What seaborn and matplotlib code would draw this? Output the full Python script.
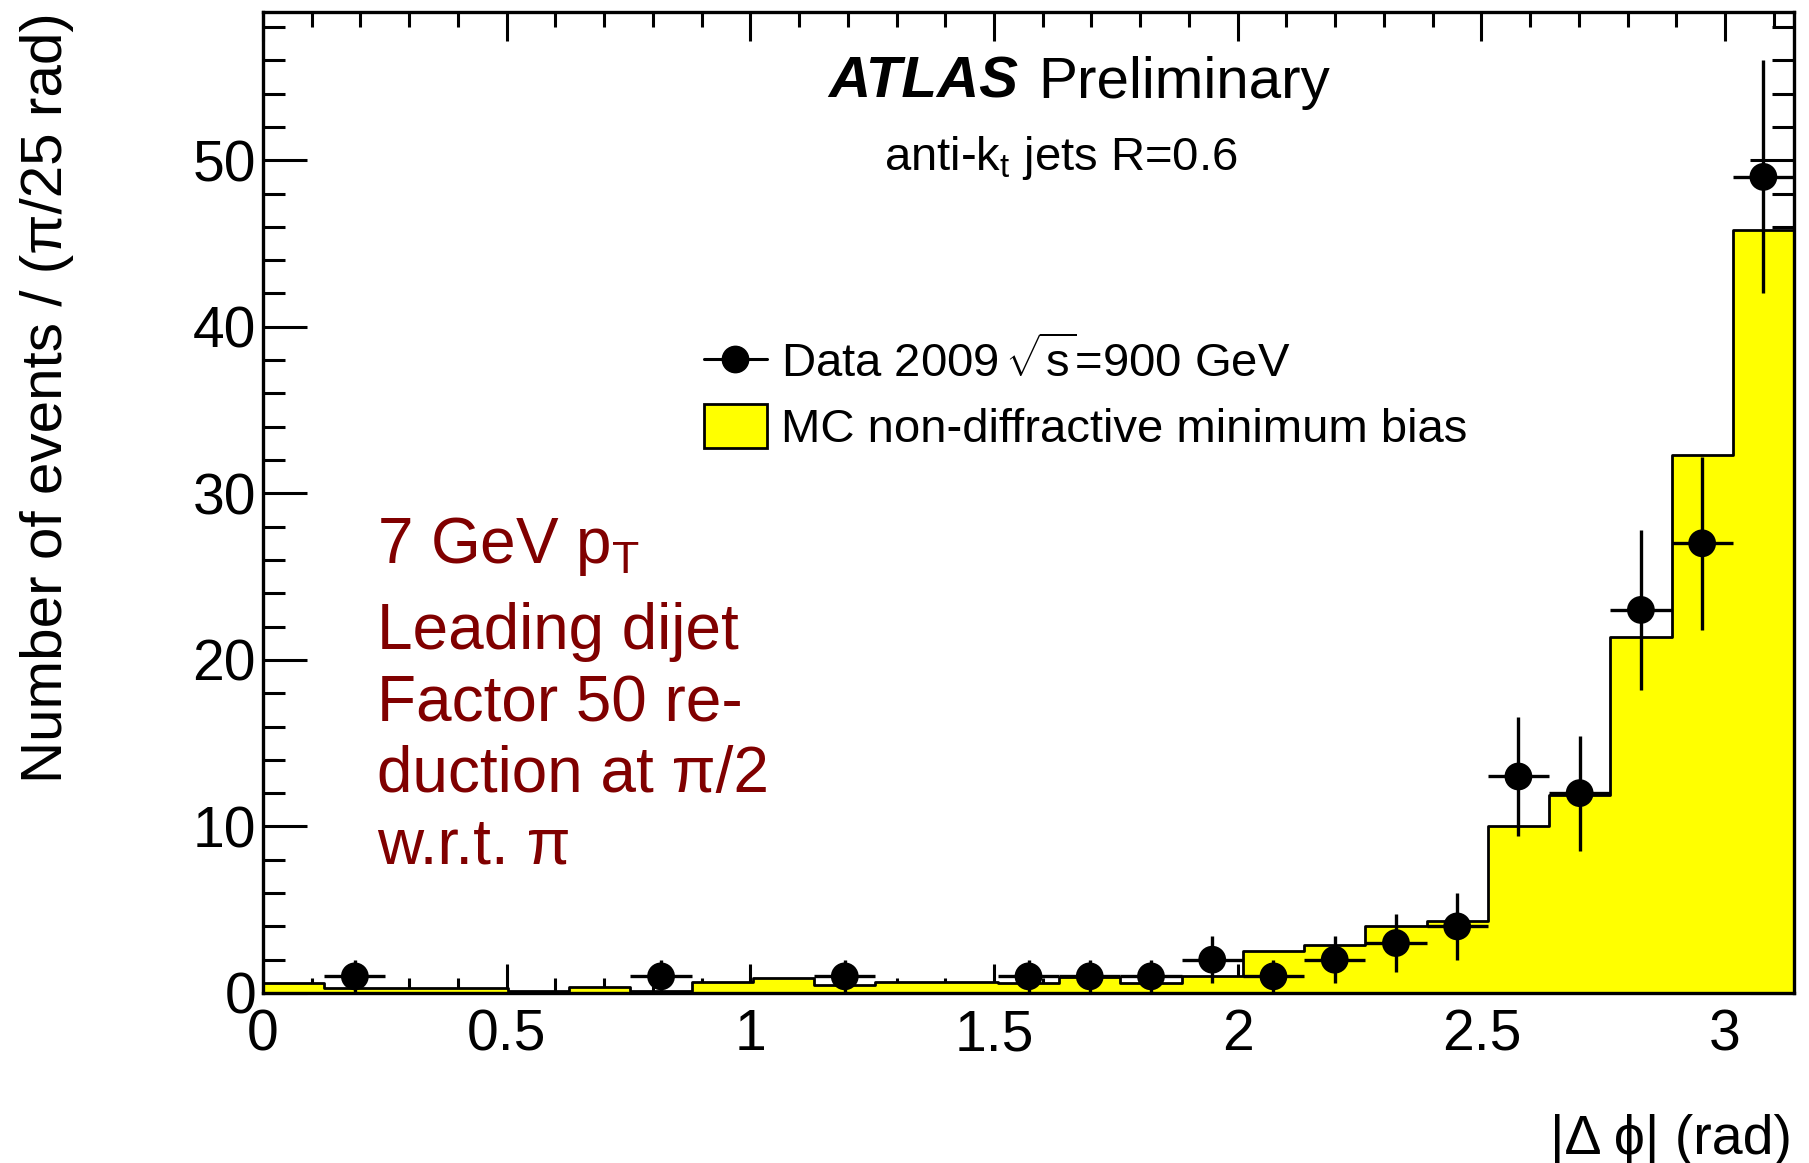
import numpy as np
import pandas as pd
import matplotlib
matplotlib.use("Agg")
import matplotlib.pyplot as plt
from matplotlib.lines import Line2D
from matplotlib.patches import Patch
from matplotlib.ticker import MultipleLocator
import seaborn as sns

# ---------------- data ----------------
n_bins = 25
x_min, x_max = 0.0, np.pi
# MC non-diffractive minimum bias (per bin of pi/25)
mc_values = [0.6, 0.3, 0.3, 0.3, 0.15, 0.35, 0.15, 0.65, 0.9, 0.5, 0.65, 0.65,
             0.6, 0.95, 0.6, 1.0, 2.5, 2.9, 4.0, 4.35, 10.0, 11.9, 21.4, 32.3, 45.8]
# Data 2009 counts (bins with zero entries are not drawn)
data_counts = [0, 1, 0, 0, 0, 0, 1, 0, 0, 1, 0, 0,
               1, 1, 1, 2, 1, 2, 3, 4, 13, 12, 23, 27, 49]
data_errors = [0, 1, 0, 0, 0, 0, 1, 0, 0, 1, 0, 0,
               1, 1, 1, 1.41, 1, 1.41, 1.73, 2, 3.6, 3.46, 4.8, 5.2, 7.0]

legend_labels = ["Data 2009$\\,\\sqrt{\\mathregular{s}}$=900 GeV",
                 "MC non-diffractive minimum bias"]
note_lines = ["7 GeV p$_{\\mathregular{T}}$", "Leading dijet", "Factor 50 re-",
              "duction at \u03c0/2", "w.r.t. \u03c0"]

edges = np.linspace(x_min, x_max, n_bins + 1)
centers = 0.5 * (edges[:-1] + edges[1:])
width = edges[1] - edges[0]
df_mc = pd.DataFrame({"x": centers, "w": mc_values})
df_data = pd.DataFrame({"x": centers, "n": data_counts, "e": data_errors})
df_data = df_data[df_data["n"] > 0]

# ---------------- style ----------------
sns.set_theme(style="white")
plt.rcParams["font.family"] = ["Liberation Sans", "DejaVu Sans"]
plt.rcParams["mathtext.fontset"] = "custom"
plt.rcParams["mathtext.rm"] = "Liberation Sans"
plt.rcParams["mathtext.it"] = "Liberation Sans:italic"
plt.rcParams["mathtext.bf"] = "Liberation Sans:bold"
plt.rcParams["text.color"] = "black"
plt.rcParams["axes.labelcolor"] = "black"
plt.rcParams["legend.labelcolor"] = "black"

W, H = 1809, 1163
fig = plt.figure(figsize=(W / 100, H / 100), dpi=100)
ax = fig.add_axes([263 / W, 1 - 993 / H, (1794 - 263) / W, (993 - 12) / H])

def fx(px):
    return px / W

def fy(py):
    return 1 - py / H

# MC histogram (yellow filled step)
sns.histplot(data=df_mc, x="x", weights="w", bins=n_bins, binrange=(x_min, x_max),
             element="step", fill=True, color="#ffff00", edgecolor="black",
             linewidth=2.0, alpha=1.0, ax=ax)

# Data points with error bars
ax.errorbar(df_data["x"], df_data["n"], xerr=width / 2, yerr=df_data["e"], fmt="none",
            ecolor="black", elinewidth=2.4, capsize=0, zorder=3)
sns.scatterplot(data=df_data, x="x", y="n", color="black", s=20 ** 2, marker="o",
                edgecolor="none", linewidth=0, zorder=4, ax=ax)

ax.set_xlim(x_min, x_max)
ax.set_ylim(0, 58.9)
ax.set_xlabel("")
ax.set_ylabel("")

ax.xaxis.set_major_locator(MultipleLocator(0.5))
ax.xaxis.set_minor_locator(MultipleLocator(0.1))
ax.yaxis.set_major_locator(MultipleLocator(10))
ax.yaxis.set_minor_locator(MultipleLocator(2))
ax.set_xticks([0, 0.5, 1, 1.5, 2, 2.5, 3])
ax.set_xticklabels(["0", "0.5", "1", "1.5", "2", "2.5", "3"])
ax.set_yticks([0, 10, 20, 30, 40, 50])
ax.set_yticklabels(["0", "10", "20", "30", "40", "50"])

for s in ax.spines.values():
    s.set_visible(True)
    s.set_linewidth(2.4)
    s.set_color("black")
    s.set_zorder(5)

ax.tick_params(axis="both", which="both", direction="in", top=True, right=True,
               bottom=True, left=True, color="black", width=2.2, labelsize=41,
               labelcolor="black")
ax.tick_params(axis="x", which="major", length=21, pad=11)
ax.tick_params(axis="x", which="minor", length=10.5)
ax.tick_params(axis="y", which="major", length=32, pad=5)
ax.tick_params(axis="y", which="minor", length=16)

# Legend
handles = [Line2D([0], [0], color="black", marker="o", markersize=19, lw=2.2),
           Patch(facecolor="#ffff00", edgecolor="black", linewidth=2.0)]
ax.legend(handles, legend_labels, loc="upper left", bbox_to_anchor=(0.288, 0.667),
          frameon=False, fontsize=34, handlelength=1.33, handleheight=1.04,
          handletextpad=0.3, labelspacing=0.35, borderpad=0, borderaxespad=0,
          labelcolor="black")

# ATLAS label
fig.text(fx(828), fy(98), "ATLAS", fontsize=42, fontweight="bold", fontstyle="italic",
         ha="left", va="baseline", color="black")
fig.text(fx(1038), fy(98), "Preliminary", fontsize=42, ha="left", va="baseline",
         color="black")
fig.text(fx(1061), fy(170), "anti-k$_{\\mathregular{t}}$ jets R=0.6", fontsize=34,
         ha="center", va="baseline", color="black")

# Red annotation
baselines = [563, 649, 721, 792, 863]
for line, yb in zip(note_lines, baselines):
    fig.text(fx(377), fy(yb), line, fontsize=46, color="#800000", ha="left",
             va="baseline")

# Axis titles
fig.text(fx(1792), fy(1154), "|\u0394 \u03d5| (rad)", fontsize=40, ha="right",
         va="baseline", color="black")
fig.text(fx(47), fy(12), "Number of events / (\u03c0/25 rad)", fontsize=42,
         rotation=90, ha="center", va="top", color="black")

fig.savefig("out.png", dpi=100)
